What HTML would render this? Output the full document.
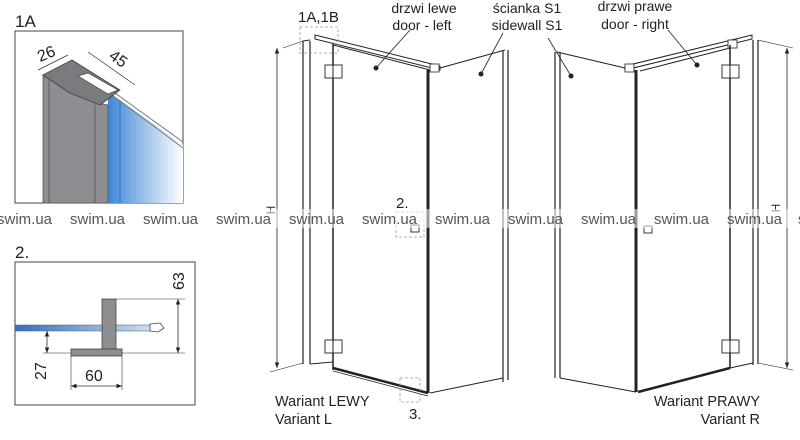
<!DOCTYPE html>
<html><head><meta charset="utf-8"><style>
html,body{margin:0;padding:0;background:#fff;}
svg{display:block;font-family:"Liberation Sans",sans-serif;}
</style></head><body>
<svg width="800" height="440" viewBox="0 0 800 440" xmlns="http://www.w3.org/2000/svg">
<defs>
<linearGradient id="gb" x1="0" x2="1" y1="0" y2="0">
<stop offset="0" stop-color="#3f86d6"/><stop offset="1" stop-color="#ffffff"/>
</linearGradient>
<linearGradient id="gh" x1="0" x2="1" y1="0" y2="0">
<stop offset="0" stop-color="#2f6fc0"/><stop offset="1" stop-color="#d8e6f5"/>
</linearGradient>
<marker id="ar" viewBox="0 0 10 10" refX="10" refY="5" markerWidth="7" markerHeight="7" orient="auto-start-reverse"><path d="M0,1 L10,5 L0,9 z" fill="#222"/></marker>
</defs>

<!-- 1A detail -->
<text x="15" y="27" font-size="17" fill="#222">1A</text>
<rect x="15" y="31" width="168" height="172" fill="#fff" stroke="#444" stroke-width="1"/>
<polygon points="108,92 183,145 183,203 108,203" fill="url(#gb)"/>
<line x1="108" y1="88" x2="183" y2="142" stroke="#777" stroke-width="1"/>
<line x1="108" y1="92" x2="183" y2="148" stroke="#777" stroke-width="1"/>
<line x1="120" y1="100" x2="120" y2="203" stroke="#2f6fc0" stroke-width="1"/>
<polygon points="43,75 43,203 108,203 108,105 98,103 70,93" fill="#8e8e92" stroke="#555" stroke-width="0.8"/>
<line x1="49" y1="80" x2="49" y2="203" stroke="#555" stroke-width="0.8"/>
<line x1="95" y1="105" x2="95" y2="203" stroke="#555" stroke-width="0.8"/>
<polygon points="43,75 72,60 120,90 100,105 70,93" fill="#7a7a7f" stroke="#444" stroke-width="0.8"/>
<polygon points="78,76 88,73 118,90 108,94" fill="#fff" stroke="#444" stroke-width="0.7"/>
<line x1="38" y1="70" x2="68" y2="55" stroke="#333" stroke-width="0.7"/>
<line x1="88" y1="52" x2="135" y2="85" stroke="#333" stroke-width="0.7"/>
<text x="40" y="62" font-size="16" fill="#222" transform="rotate(-22 40 62)">26</text>
<text x="108" y="58" font-size="16" fill="#222" transform="rotate(35 108 58)">45</text>

<!-- 2 detail -->
<text x="15" y="258" font-size="17" fill="#222">2.</text>
<rect x="15" y="262" width="180" height="143" fill="#fff" stroke="#444" stroke-width="1"/>
<rect x="15" y="325" width="145" height="6" fill="url(#gh)" stroke="#555" stroke-width="0.5"/>
<polygon points="150,324 160,323 164,328 158,332 150,331" fill="#fff" stroke="#444" stroke-width="0.8"/>
<rect x="102" y="299" width="14" height="50" fill="#8e8e92" stroke="#444" stroke-width="0.8"/>
<rect x="71" y="349" width="51" height="7" fill="#8e8e92" stroke="#444" stroke-width="0.8"/>
<line x1="116" y1="299" x2="185" y2="299" stroke="#333" stroke-width="0.6"/>
<line x1="122" y1="353" x2="185" y2="353" stroke="#333" stroke-width="0.6"/>
<line x1="178" y1="299" x2="178" y2="353" stroke="#333" stroke-width="0.8" marker-start="url(#ar)" marker-end="url(#ar)"/>
<text x="184" y="290" font-size="16" fill="#222" transform="rotate(-90 184 290)">63</text>
<line x1="43" y1="353" x2="71" y2="353" stroke="#333" stroke-width="0.6"/>
<line x1="47" y1="331" x2="47" y2="353" stroke="#333" stroke-width="0.8" marker-start="url(#ar)" marker-end="url(#ar)"/>
<text x="46" y="380" font-size="16" fill="#222" transform="rotate(-90 46 380)">27</text>
<line x1="71" y1="356" x2="71" y2="390" stroke="#333" stroke-width="0.6"/>
<line x1="122" y1="356" x2="122" y2="390" stroke="#333" stroke-width="0.6"/>
<line x1="71" y1="386" x2="122" y2="386" stroke="#333" stroke-width="0.8" marker-start="url(#ar)" marker-end="url(#ar)"/>
<text x="85" y="381" font-size="16" fill="#222">60</text>

<!-- LEFT variant -->
<g stroke="#222" fill="none">
<line x1="283" y1="48" x2="303" y2="41" stroke-width="0.6"/>
<line x1="270" y1="372" x2="303" y2="363" stroke-width="0.6"/>
<line x1="277" y1="48" x2="277" y2="368" stroke-width="0.8" marker-start="url(#ar)" marker-end="url(#ar)"/>
<line x1="303" y1="41" x2="303" y2="364" stroke-width="1.2"/>
<line x1="310" y1="41" x2="310" y2="364" stroke-width="1.2"/>
<line x1="303" y1="41" x2="310" y2="40"/>
<line x1="310" y1="364" x2="333" y2="362"/>
<line x1="333" y1="42" x2="333" y2="370" stroke-width="1.5"/>
<polygon points="315,35 440,66 440,70 315,39" fill="#fff" stroke-width="1"/>
<line x1="333" y1="45" x2="430" y2="70" stroke-width="1"/>
<rect x="430" y="64" width="9" height="8" fill="#fff" stroke-width="0.8"/>
<line x1="428" y1="70" x2="428" y2="393" stroke-width="3"/>
<line x1="333" y1="368" x2="428" y2="393" stroke-width="2.5"/>
<line x1="333" y1="371" x2="428" y2="396" stroke-width="0.8"/>
<line x1="440" y1="68" x2="505" y2="50" stroke-width="1"/>
<line x1="503" y1="51" x2="503" y2="382" stroke-width="1.2"/>
<line x1="508" y1="50" x2="508" y2="380" stroke-width="1.2"/>
<line x1="430" y1="393" x2="503" y2="378" stroke-width="1"/>
<rect x="325" y="65" width="17" height="13" fill="#fff" stroke-width="0.9"/>
<line x1="333" y1="65" x2="333" y2="78"/>
<rect x="325" y="340" width="17" height="13" fill="#fff" stroke-width="0.9"/>
<line x1="333" y1="340" x2="333" y2="353"/>
<rect x="411" y="225" width="8" height="7" fill="#fff" stroke-width="0.9"/>
<line x1="376" y1="68" x2="410" y2="30" stroke-width="0.8"/>
<line x1="481" y1="74" x2="503" y2="33" stroke-width="0.8"/>
</g>
<circle cx="376" cy="68" r="2.5" fill="#222"/>
<circle cx="481" cy="74" r="2.5" fill="#222"/>
<g fill="none" stroke="#999" stroke-dasharray="3,2" stroke-width="0.8">
<rect x="300" y="27" width="38" height="26"/>
<rect x="396" y="212" width="28" height="25"/>
<rect x="400" y="378" width="20" height="24"/>
</g>
<text x="298" y="22" font-size="15" fill="#222">1A,1B</text>
<text x="424" y="13" font-size="14" fill="#222" text-anchor="middle">drzwi lewe</text>
<text x="422" y="30" font-size="14" fill="#222" text-anchor="middle">door - left</text>
<text x="527" y="13" font-size="14" fill="#222" text-anchor="middle">ścianka S1</text>
<text x="527" y="30" font-size="14" fill="#222" text-anchor="middle">sidewall S1</text>
<text x="396" y="208" font-size="15" fill="#222">2.</text>
<text x="409" y="419" font-size="15" fill="#222">3.</text>
<text x="275" y="406" font-size="14.5" fill="#222">Wariant LEWY</text>
<text x="275" y="424" font-size="14.5" fill="#222">Variant L</text>
<text x="275" y="210" font-size="12" fill="#222" transform="rotate(-90 275 210)" text-anchor="middle">H</text>

<!-- RIGHT variant -->
<g stroke="#222" fill="none">
<line x1="555" y1="52" x2="555" y2="378" stroke-width="1.2"/>
<line x1="560" y1="52" x2="560" y2="378" stroke-width="1.2"/>
<line x1="557" y1="52" x2="625" y2="68" stroke-width="1"/>
<line x1="560" y1="378" x2="636" y2="392" stroke-width="1"/>
<line x1="636" y1="70" x2="636" y2="392" stroke-width="3"/>
<polygon points="625,66 752,35 752,39 625,70" fill="#fff" stroke-width="1"/>
<line x1="640" y1="71" x2="730" y2="48" stroke-width="1"/>
<rect x="625" y="64" width="9" height="8" fill="#fff" stroke-width="0.8"/>
<rect x="728" y="40" width="9" height="8" fill="#fff" stroke-width="0.8"/>
<line x1="730" y1="45" x2="730" y2="368" stroke-width="1.5"/>
<line x1="638" y1="392" x2="730" y2="368" stroke-width="2.5"/>
<line x1="753" y1="40" x2="753" y2="365" stroke-width="1.2"/>
<line x1="758" y1="40" x2="758" y2="364" stroke-width="1.2"/>
<line x1="730" y1="368" x2="753" y2="363"/>
<line x1="758" y1="40" x2="793" y2="48" stroke-width="0.6"/>
<line x1="758" y1="363" x2="793" y2="370" stroke-width="0.6"/>
<line x1="787" y1="48" x2="787" y2="368" stroke-width="0.8" marker-start="url(#ar)" marker-end="url(#ar)"/>
<rect x="722" y="65" width="17" height="13" fill="#fff" stroke-width="0.9"/>
<line x1="730" y1="65" x2="730" y2="78"/>
<rect x="722" y="340" width="17" height="13" fill="#fff" stroke-width="0.9"/>
<line x1="730" y1="340" x2="730" y2="353"/>
<rect x="644" y="226" width="8" height="7" fill="#fff" stroke-width="0.9"/>
<line x1="571" y1="76" x2="548" y2="38" stroke-width="0.8"/>
<line x1="697" y1="65" x2="668" y2="30" stroke-width="0.8"/>
</g>
<circle cx="571" cy="76" r="2.5" fill="#222"/>
<circle cx="697" cy="65" r="2.5" fill="#222"/>
<text x="635" y="11" font-size="14" fill="#222" text-anchor="middle">drzwi prawe</text>
<text x="635" y="29" font-size="14" fill="#222" text-anchor="middle">door - right</text>
<text x="760" y="406" font-size="14.5" fill="#222" text-anchor="end">Wariant PRAWY</text>
<text x="760" y="424" font-size="14.5" fill="#222" text-anchor="end">Variant R</text>
<text x="780" y="208" font-size="12" fill="#222" transform="rotate(-90 780 208)" text-anchor="middle">H</text>

<!-- watermark -->
<g font-size="15" fill="#555">
<rect x="0" y="209" width="800" height="19" fill="#fff" fill-opacity="0.55"/>
<text x="-3" y="224">swim.ua</text>
<text x="70" y="224">swim.ua</text>
<text x="143" y="224">swim.ua</text>
<text x="216" y="224">swim.ua</text>
<text x="289" y="224">swim.ua</text>
<text x="362" y="224">swim.ua</text>
<text x="435" y="224">swim.ua</text>
<text x="508" y="224">swim.ua</text>
<text x="581" y="224">swim.ua</text>
<text x="654" y="224">swim.ua</text>
<text x="727" y="224">swim.ua</text>
<text x="798" y="224">s</text>
</g>
</svg>
</body></html>
